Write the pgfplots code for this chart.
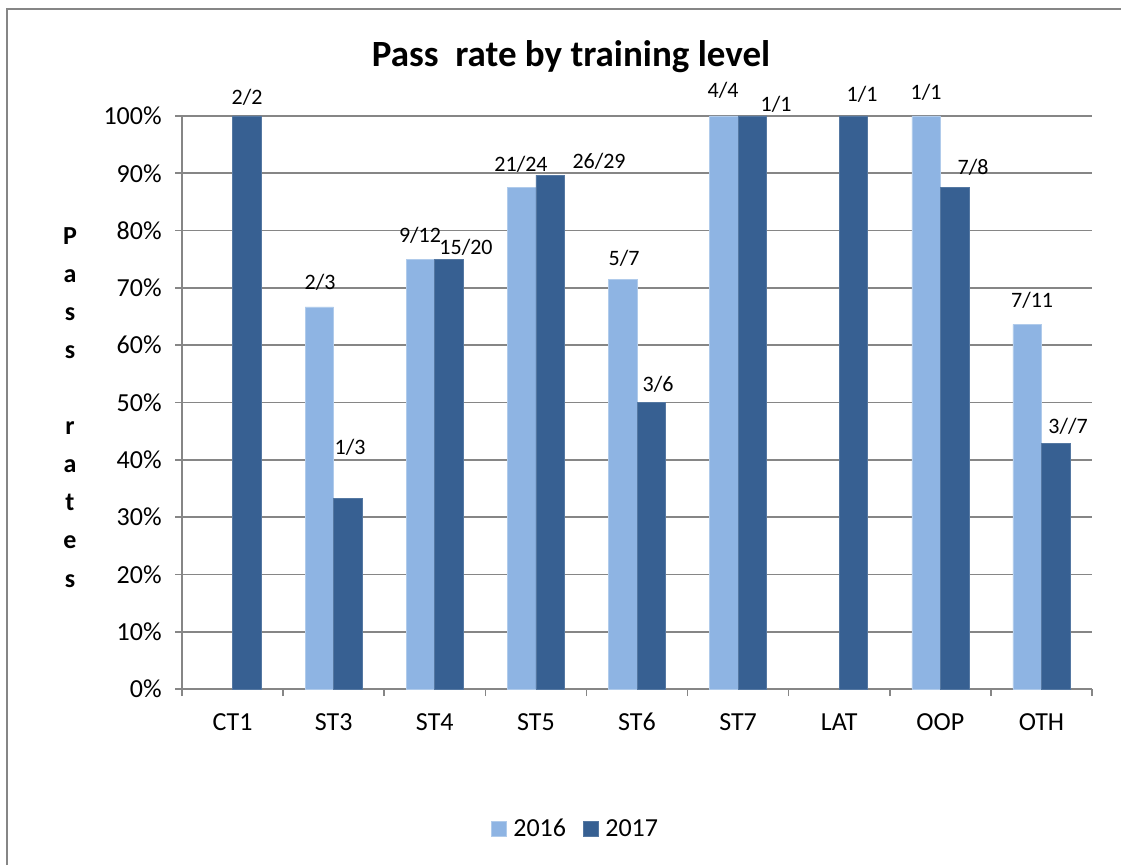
\documentclass[border=0pt]{standalone}
\usepackage{fontspec}
\setmainfont{Carlito}
\usepackage{pgfplots}
\pgfplotsset{compat=1.18}
\definecolor{cA}{HTML}{8EB4E3}
\definecolor{cB}{HTML}{376092}
\definecolor{gridc}{HTML}{868686}
\begin{document}
\begin{tikzpicture}[lab/.style={font=\fontsize{16.5}{19}\selectfont}]
\path[use as bounding box] (0,0) rectangle (840.75pt,648.75pt);
\draw[color=gridc, line width=1.5pt] (5.25pt,0) -- (5.25pt,642pt) -- (840.75pt,642pt);
\node[font=\bfseries\fontsize{27.75}{32}\selectfont] at (428.25pt,606pt) {Pass\ \ rate by training level};
\foreach \l/\yy in {P/245,a/283,s/321,s/359,r/435,a/473,t/511,e/549,s/587}{
  \node[font=\bfseries\fontsize{19.5}{22}\selectfont, anchor=base, inner sep=0pt] at (52.5pt,{(865-\yy)*0.75pt}) {\l};
}
\begin{axis}[
  at={(136.5pt,132pt)}, anchor=south west, scale only axis,
  width=682.5pt, height=429.75pt,
  ymin=0, ymax=100, xmin=-0.5, xmax=8.5,
  ybar=0pt, bar width=21.375pt,
  axis x line*=bottom, axis y line*=left,
  axis line style={gridc, line width=1.2pt},
  ytick={0,10,...,100},
  yticklabels={0\%,10\%,20\%,30\%,40\%,50\%,60\%,70\%,80\%,90\%,100\%},
  ymajorgrids, grid style={gridc, line width=1.2pt},
  xtick={0,...,8},
  xticklabels={CT1,ST3,ST4,ST5,ST6,ST7,LAT,OOP,OTH},
  minor xtick={-0.5,0.5,...,8.5},
  tick align=outside,
  tick style={gridc, line width=1.2pt},
  major tick length=5.25pt, minor tick length=5.25pt,
  major x tick style={draw=none},
  every tick label/.append style={font=\fontsize{19.5}{22}\selectfont},
  xticklabel style={text height=13pt, text depth=0pt, anchor=north, yshift=-9pt},
  yticklabel style={xshift=-6.5pt},
  clip=false,
  legend columns=2,
  legend style={at={(0.433,-0.2443)}, anchor=center, draw=none,
    font=\fontsize{19.5}{22}\selectfont,
    /tikz/every even column/.append style={column sep=11pt}},
  legend image code/.code={\fill[#1] (0pt,-5.6pt) rectangle (11.25pt,5.6pt); \path (14pt,0pt);},
]
\addplot[fill=cA, draw=cA!70!white, line width=0.5pt] coordinates {(1,66.67)(2,75)(3,87.5)(4,71.43)(5,100)(7,100)(8,63.64)};
\addplot[fill=cB, draw=cB!85!white, line width=0.5pt] coordinates {(0,100)(1,33.33)(2,75)(3,89.66)(4,50)(5,100)(6,100)(7,87.5)(8,42.86)};
\legend{2016,2017}
\node[lab] at (axis cs:0.143,103.3) {2/2};
\node[lab] at (axis cs:0.865,71.0) {2/3};
\node[lab] at (axis cs:1.162,42.2) {1/3};
\node[lab] at (axis cs:1.854,79.2) {9/12};
\node[lab] at (axis cs:2.309,77.0) {15/20};
\node[lab] at (axis cs:2.853,91.6) {21/24};
\node[lab] at (axis cs:3.625,92.1) {26/29};
\node[lab] at (axis cs:3.872,75.2) {5/7};
\node[lab] at (axis cs:4.208,53.2) {3/6};
\node[lab] at (axis cs:4.851,104.4) {4/4};
\node[lab] at (axis cs:5.375,102.1) {1/1};
\node[lab] at (axis cs:6.226,103.8) {1/1};
\node[lab] at (axis cs:6.859,104.2) {1/1};
\node[lab] at (axis cs:7.324,91.1) {7/8};
\node[lab] at (axis cs:7.908,67.9) {7/11};
\node[lab] at (axis cs:8.264,45.9) {3//7};
\end{axis}
\end{tikzpicture}
\end{document}
